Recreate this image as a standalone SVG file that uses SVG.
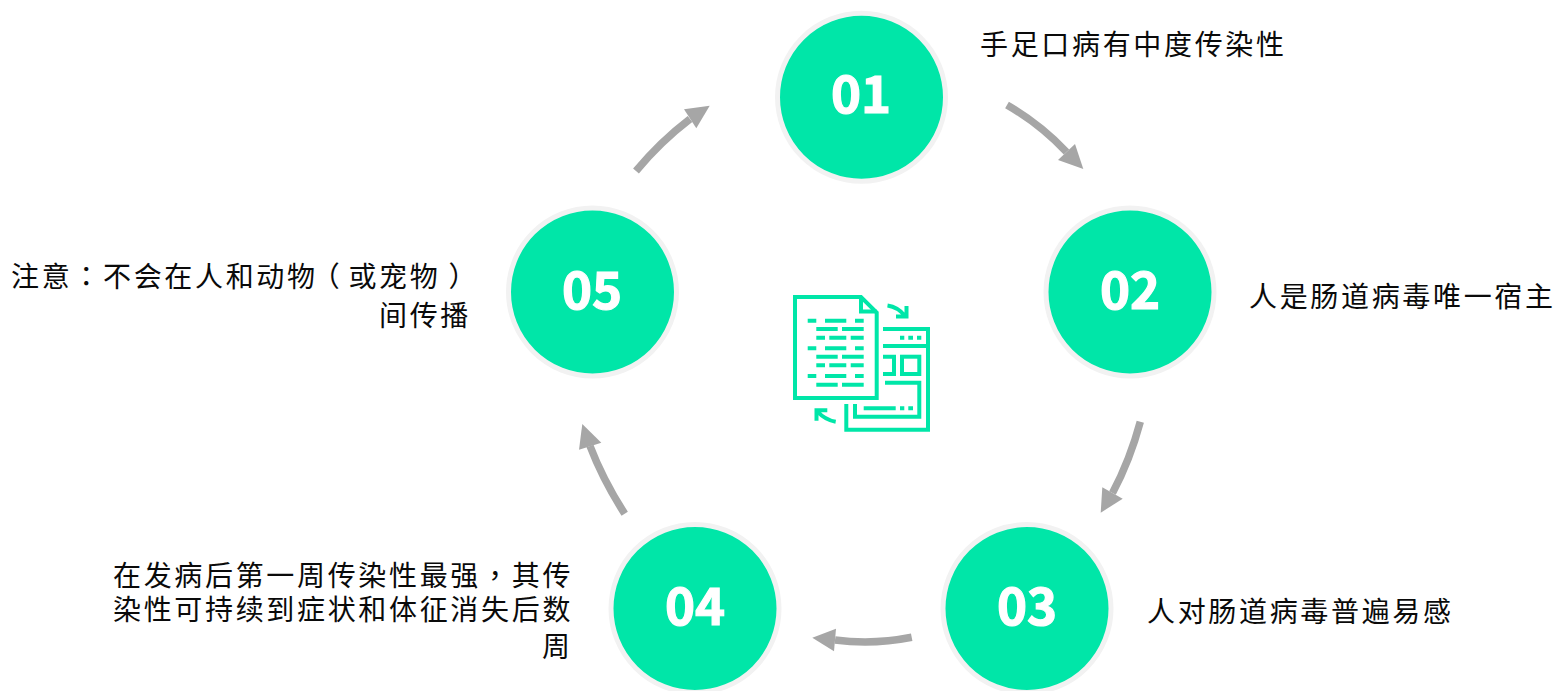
<svg xmlns="http://www.w3.org/2000/svg" width="1556" height="691" viewBox="0 0 1556 691">
<style>
.ring{fill:#00e6a8;stroke:#f2f2f2;stroke-width:5}
.num{font-family:"Noto Sans CJK SC","Open Sans",sans-serif;font-weight:700;font-size:51px;fill:#fff;stroke:#fff;stroke-width:1.200;text-anchor:middle}
.lb{font-family:"Noto Sans CJK SC","Noto Sans",sans-serif;font-size:28px;letter-spacing:2.67px;fill:#0a0a0a}
.tc{font-family:"Noto Sans CJK TC","Noto Sans",sans-serif}
.cv{fill:none;stroke:#a6a6a6;stroke-width:7.500}
.hd{fill:#a6a6a6}
.ic{fill:none;stroke:#00e6a8;stroke-width:4}
</style>
<rect width="1556" height="691" fill="#fff"/>
<g id="connectors">
<path class="cv" d="M1007 105Q1040 124 1066.500 152"/><polygon class="hd" points="1083.300,169 1075,144 1058,160"/>
<path class="cv" d="M1140.300 421.700Q1130 460 1112.500 493"/><polygon class="hd" points="1100.700,512.700 1102.300,487.300 1122.700,498.700"/>
<path class="cv" d="M911.700 637.300Q873 645 835 640"/><polygon class="hd" points="812.300,637.700 836,628.700 834,651.300"/>
<path class="cv" d="M624.700 513.700Q603 480 590 446"/><polygon class="hd" points="582.300,424 579,449.700 601.300,442.700"/>
<path class="cv" d="M636 171Q660 142 690 119"/><polygon class="hd" points="709.700,105.700 684,109.300 696.300,128.300"/>
</g>
<g id="node-01"><circle class="ring" cx="861.500" cy="97.300" r="84"/><text class="num" x="861" y="113">01</text><text class="lb" x="980" y="55">手足口病有中度传染性</text></g>
<g id="node-02"><circle class="ring" cx="1130" cy="292" r="84"/><text class="num" x="1130" y="309">02</text><text class="lb" x="1249" y="307">人是肠道病毒唯一宿主</text></g>
<g id="node-03"><circle class="ring" cx="1027" cy="608.500" r="84"/><text class="num" x="1027" y="625">03</text><text class="lb" x="1147" y="622">人对肠道病毒普遍易感</text></g>
<g id="node-04"><circle class="ring" cx="695" cy="608.500" r="84"/><text class="num" x="695" y="625">04</text><text class="lb" x="113" y="586">在发病后第一周传染性最强<tspan class="tc">，</tspan>其传</text><text class="lb" x="113" y="620">染性可持续到症状和体征消失后数</text><text class="lb" x="542" y="657">周</text></g>
<g id="node-05"><circle class="ring" cx="592.500" cy="292" r="84"/><text class="num" x="592" y="309">05</text><text class="lb" x="11" y="287">注意<tspan class="tc">：</tspan>不会在人和动物<tspan dx="-6">（</tspan><tspan dx="6">或</tspan>宠物<tspan dx="8">）</tspan></text><text class="lb" x="379" y="326">间传播</text></g>
<g id="icon">
<path class="ic" d="M795 297H861L876.700 312.500V398H795Z"/>
<path class="ic" d="M861 297V311.500H876.700"/>
<path class="ic" d="M807.700 320.700h8.600M825 320.700h21.300M855 320.700h8.700M816.300 329h21.400M842 329h21.700M816.300 337.700h8.700M829.300 337.700h17M850.700 337.700h13M807.700 348.300h8.600M825 348.300h21.300M855 348.300h8.700M816.300 356.700h21.400M842 356.700h21.700M816.300 365.300h8.700M829.300 365.300h17M850.700 365.300h13M807.700 376h8.600M825 376h21.300M855 376h8.700M816.300 384.700h21.400M842 384.700h21.700"/>
<path class="ic" d="M883 329H928V429.700H846.300V404"/>
<path class="ic" d="M883 346H928M900 337.700h4.300M908.300 337.700h4.700M917 337.700h4.300"/>
<rect class="ic" x="902" y="356.700" width="17.300" height="17.300"/>
<path class="ic" d="M883 356.700H894V374H883"/>
<path class="ic" d="M885 382.700H919.300V416.700H855V404"/>
<path class="ic" d="M863.700 408.300h32M900 408.300h4.300M908.300 408.300h4.700"/>
<path class="ic" d="M887.500 305.500Q898 307 905 316M896 316.500H906.500V306"/>
<path class="ic" d="M835.700 421.700Q825 420 817 411M827.300 410.300H816.500V420.700"/>
</g>
</svg>
